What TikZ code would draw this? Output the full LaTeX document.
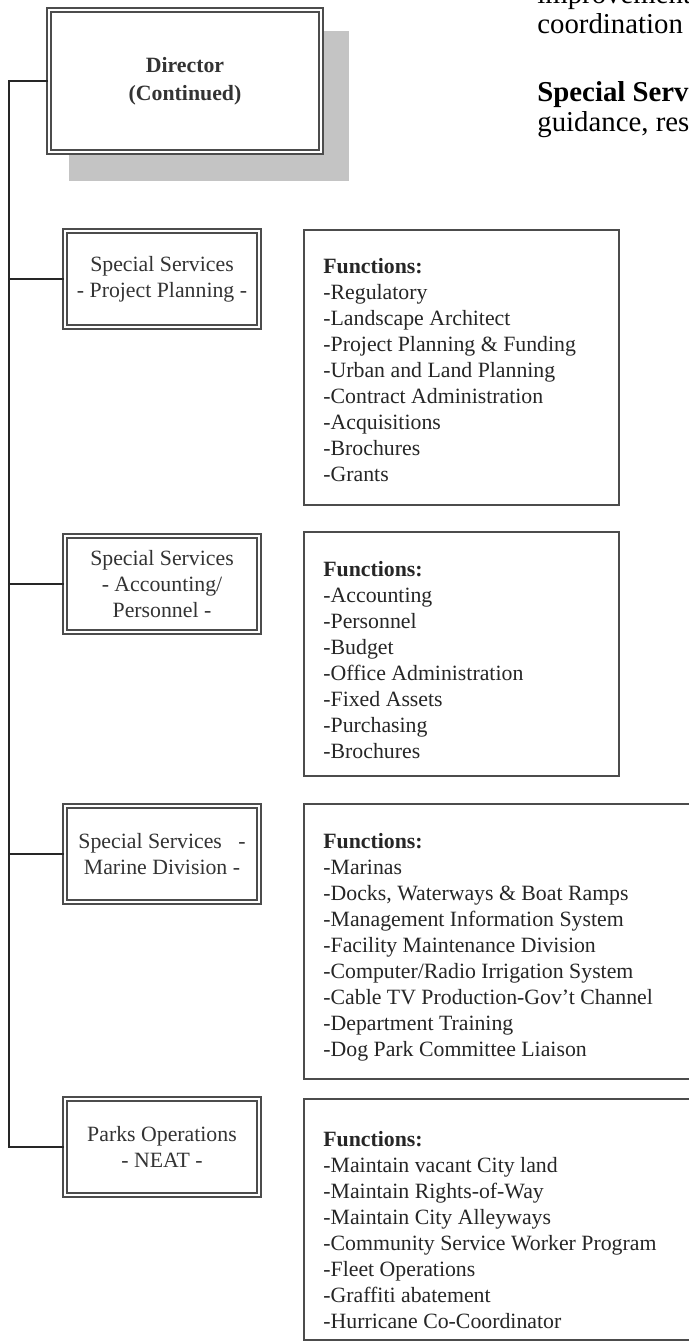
\documentclass[tikz,border=0pt]{standalone}
\usepackage{fontspec}
\setmainfont{Liberation Serif}
\usetikzlibrary{backgrounds}

\tikzset{
  unitbox/.style={draw=black!70, line width=0.8pt, double=white, double distance=1.4pt,
    fill=white, align=center, minimum width=97pt, minimum height=48pt, inner sep=0pt,
    text=black!80, font=\fontsize{10.9}{13}\selectfont},
  fnbox/.style={draw=black!70, line width=0.9pt, fill=white, anchor=north west,
    minimum width=157.5pt, inner sep=0pt},
  fnlist/.style={anchor=north west, align=left, inner sep=0pt, text=black!85,
    font=\fontsize{10.9}{13}\selectfont},
  link/.style={draw=black!85, line width=1pt},
  bodytext/.style={anchor=base west, inner sep=0pt, font=\fontsize{14.4}{15}\selectfont}
}

\begin{document}
\begin{tikzpicture}[x=0.5pt, y=-0.5pt]
  \useasboundingbox (0,0) rectangle (689,1342);
  \clip (0,0) rectangle (689,1342);

  % Director box with its shadow
  \node[unitbox, minimum width=136pt, minimum height=71pt,
        font=\fontsize{10.9}{14}\selectfont\bfseries] (dir) at (185,81) {Director\\(Continued)};
  \begin{pgfonlayer}{background}
    \fill[black!23] ([shift={(21,22)}]dir.north west) rectangle ([shift={(27,28)}]dir.south east);
  \end{pgfonlayer}

  % units
  \node[unitbox] (pp) at (162,279) {Special Services\\- Project Planning -};
  \node[unitbox] (acc) at (162,584) {Special Services\\- Accounting/\\Personnel -};
  \node[unitbox] (marine) at (162,854) {Special Services\ \ \ -\\Marine Division -};
  \node[unitbox] (parks) at (162,1147) {Parks Operations\\- NEAT -};

  % trunk line and branches
  \coordinate (trunk) at (9,81);
  \draw[link] (dir.west) -- (trunk) |- (parks.west);
  \foreach \u in {pp,acc,marine}
    \draw[link] (trunk |- \u.west) -- (\u.west);

  % function boxes
  \node[fnbox, minimum height=137.5pt] (fn1) at (303,229) {};
  \node[fnbox, minimum height=122pt] (fn2) at (303,531) {};
  \node[fnbox, minimum width=209pt, minimum height=137.5pt] (fn3) at (303,803) {};
  \node[fnbox, minimum width=209pt, minimum height=120.5pt] (fn4) at (303,1098) {};

  \node[fnlist] (list1) at (323,258) {\textbf{Functions:}\\-Regulatory\\-Landscape Architect\\
    -Project Planning \& Funding\\-Urban and Land Planning\\-Contract Administration\\
    -Acquisitions\\-Brochures\\-Grants};
  \node[fnlist] (list2) at (323,561) {\textbf{Functions:}\\-Accounting\\-Personnel\\-Budget\\
    -Office Administration\\-Fixed Assets\\-Purchasing\\-Brochures};
  \node[fnlist] (list3) at (323,833) {\textbf{Functions:}\\-Marinas\\-Docks, Waterways \& Boat Ramps\\
    -Management Information System\\-Facility Maintenance Division\\
    -Computer/Radio Irrigation System\\-Cable TV Production-Gov't Channel\\
    -Department Training\\-Dog Park Committee Liaison};
  \node[fnlist] (list4) at (323,1131) {\textbf{Functions:}\\-Maintain vacant City land\\
    -Maintain Rights-of-Way\\-Maintain City Alleyways\\-Community Service Worker Program\\
    -Fleet Operations\\-Graffiti abatement\\-Hurricane Co-Coordinator};

  % page text beside the chart
  \node[bodytext] (txt1) at (537,4) {improvement};
  \node[bodytext] (txt2) at (537,34) {coordination};
  \node[bodytext] (txt3) at (537,102) {\bfseries Special Serv};
  \node[bodytext] (txt4) at (537,132) {guidance, res};

\end{tikzpicture}
\end{document}
